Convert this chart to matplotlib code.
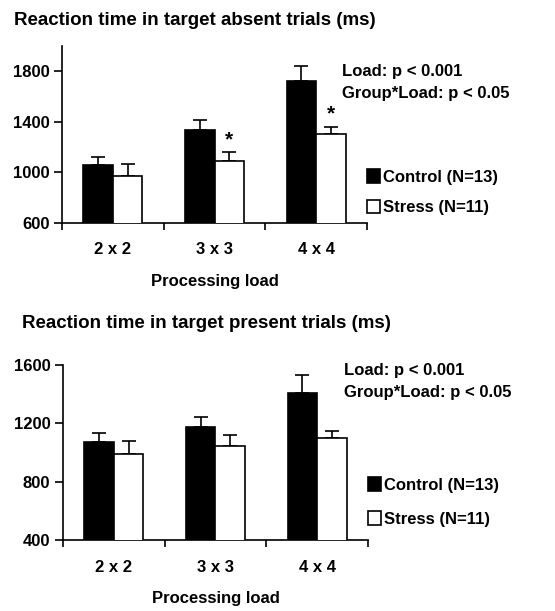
import matplotlib.pyplot as plt
import numpy as np

plt.rcParams['font.family'] = ['Liberation Sans', 'DejaVu Sans']
plt.rcParams['font.weight'] = 'bold'
plt.rcParams['font.size'] = 12

loads = ['2 x 2', '3 x 3', '4 x 4']
groups = ['Control (N=13)', 'Stress (N=11)']

# target absent trials
absent_control = [1059, 1336, 1721]
absent_control_err = [60, 81, 118]
absent_stress = [972, 1088, 1301]
absent_stress_err = [92, 71, 61]
absent_stars = [False, True, True]

# target present trials
present_control = [1070, 1173, 1410]
present_control_err = [61, 70, 117]
present_stress = [987, 1042, 1097]
present_stress_err = [90, 80, 53]
present_stars = [False, False, False]

fig = plt.figure(figsize=(5.55, 6.11), dpi=100)


def draw_panel(rect, title, title_xy, ctrl, ctrl_err, strs, strs_err, stars,
               ylim, yticks, ann_y, leg):
    ax = fig.add_axes(rect)
    x = np.arange(len(loads)) + 0.5
    w = 0.29
    ax.bar(x - w / 2, ctrl, w, color='black', edgecolor='black',
           linewidth=1.2, label=groups[0], zorder=3)
    ax.bar(x + w / 2, strs, w, color='white', edgecolor='black',
           linewidth=1.2, label=groups[1], zorder=3)
    ax.errorbar(x - w / 2, ctrl, yerr=[np.zeros(3), ctrl_err], fmt='none',
                ecolor='black', elinewidth=1.2, capsize=5, capthick=1.2, zorder=2)
    ax.errorbar(x + w / 2, strs, yerr=[np.zeros(3), strs_err], fmt='none',
                ecolor='black', elinewidth=1.2, capsize=5, capthick=1.2, zorder=2)
    for i, s in enumerate(stars):
        if s:
            ax.text(x[i] + w / 2, strs[i] + strs_err[i] + 25, '*', ha='center',
                    va='bottom', fontsize=15, fontweight='bold')
    ax.set_xlim(0, 3)
    ax.set_ylim(*ylim)
    ax.set_yticks(yticks)
    ax.set_xticks([0, 1, 2, 3])
    ax.set_xticklabels([])
    ax.set_xticks(x, minor=True)
    ax.set_xticklabels(loads, minor=True)
    ax.tick_params(axis='x', which='minor', length=0, pad=14)
    ax.tick_params(axis='x', which='major', length=5, width=1.2, direction='out')
    ax.tick_params(axis='y', length=6, width=1.2, direction='out', pad=3)
    for sp in ['top', 'right']:
        ax.spines[sp].set_visible(False)
    for sp in ['left', 'bottom']:
        ax.spines[sp].set_linewidth(1.2)
    ax.set_xlabel('Processing load', labelpad=12, fontweight='bold')
    fig.text(title_xy[0], title_xy[1], title, ha='left', va='center',
             fontsize=13.5, fontweight='bold')
    ax.text(2.76, ann_y[0], 'Load: p < 0.001', ha='left', va='center')
    ax.text(2.76, ann_y[1], 'Group*Load: p < 0.05', ha='left', va='center',
            clip_on=False)
    ax.legend(loc='upper left', bbox_to_anchor=(leg[0], leg[1]), frameon=False,
              handlelength=0.8, handleheight=0.9, handletextpad=0.15,
              labelspacing=leg[2], borderaxespad=0, borderpad=0)
    return ax


draw_panel([0.112, 0.635, 0.549, 0.29],
           'Reaction time in target absent trials (ms)', (0.025, 0.966),
           absent_control, absent_control_err, absent_stress, absent_stress_err,
           absent_stars, (600, 2000), [600, 1000, 1400, 1800], (1800, 1620),
           (1.0, 0.305, 0.9))

draw_panel([0.1135, 0.116, 0.5495, 0.287],
           'Reaction time in target present trials (ms)', (0.04, 0.471),
           present_control, present_control_err, present_stress, present_stress_err,
           present_stars, (400, 1600), [400, 800, 1200, 1600], (1560, 1408),
           (1.0, 0.36, 1.1))

fig.savefig('out.png', dpi=100)
